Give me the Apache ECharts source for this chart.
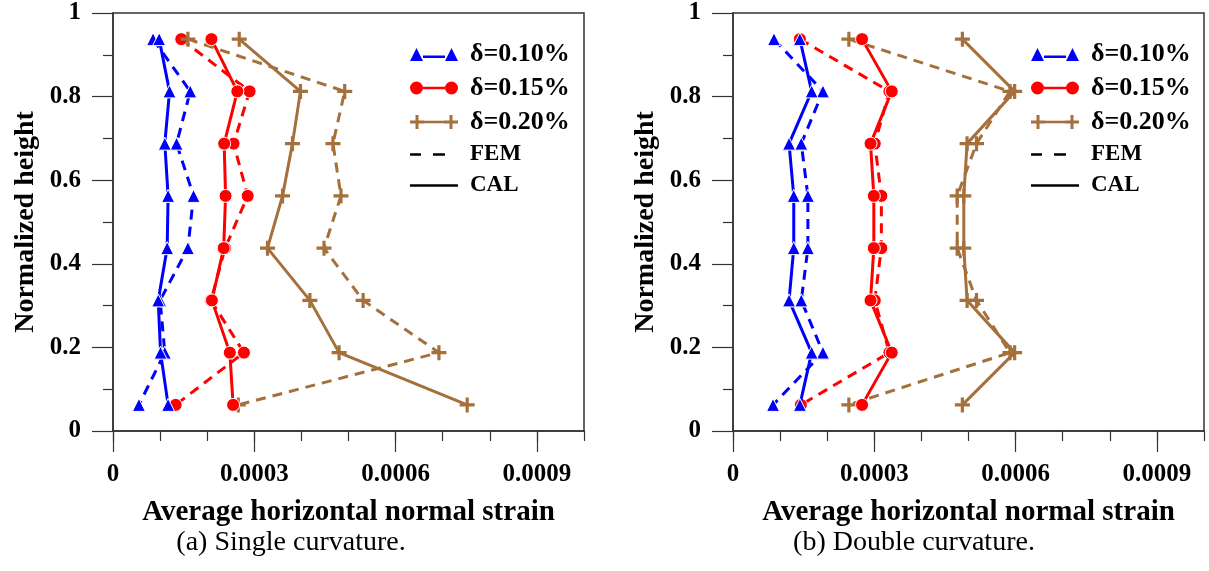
<!DOCTYPE html>
<html>
<head>
<meta charset="utf-8">
<script src="https://cdn.jsdelivr.net/npm/echarts@6/dist/echarts.min.js"></script>
<style>
  html, body { margin: 0; padding: 0; background: #fff; }
  #chart { width: 1209px; height: 571px; }
</style>
</head>
<body>
<div id="chart"></div>
<script>
// normalized height of each measuring level (top to bottom)
var heights = [0.9375, 0.8125, 0.6875, 0.5625, 0.4375, 0.3125, 0.1875, 0.0625];

// (a) single curvature
var singleCal010 = [0.000098, 0.00012, 0.00011, 0.000117, 0.000115, 0.000096, 0.000101, 0.000117];
var singleFem010 = [0.000085, 0.000164, 0.000135, 0.000171, 0.000159, 0.0001, 0.00011, 0.000055];
var singleCal015 = [0.000209, 0.000264, 0.000236, 0.000239, 0.000235, 0.00021, 0.000248, 0.000255];
var singleFem015 = [0.000145, 0.00029, 0.000256, 0.000286, 0.000238, 0.000208, 0.000278, 0.000133];
var singleCal020 = [0.000268, 0.000398, 0.000381, 0.00036, 0.000328, 0.000418, 0.00048, 0.000752];
var singleFem020 = [0.000159, 0.000492, 0.000467, 0.000484, 0.000448, 0.000531, 0.000692, 0.000266];

// (b) double curvature
var doubleCal010 = [0.000142, 0.000167, 0.000119, 0.000129, 0.000129, 0.000119, 0.000167, 0.000142];
var doubleFem010 = [0.000087, 0.000191, 0.000145, 0.000159, 0.000159, 0.000145, 0.000191, 0.000085];
var doubleCal015 = [0.000274, 0.000337, 0.000292, 0.000299, 0.000299, 0.000292, 0.000337, 0.000274];
var doubleFem015 = [0.000142, 0.000332, 0.000301, 0.000315, 0.000315, 0.000301, 0.000332, 0.000144];
var doubleCal020 = [0.000487, 0.000598, 0.000497, 0.00049, 0.00049, 0.000497, 0.000598, 0.000487];
var doubleFem020 = [0.000246, 0.000588, 0.000517, 0.000476, 0.000476, 0.000517, 0.000588, 0.000246];

var xLabelValues = [0, 0.0003, 0.0006, 0.0009];
var legendNames = ['δ=0.10%', 'δ=0.15%', 'δ=0.20%', 'FEM', 'CAL'];
var captions = ['(a) Single curvature.', '(b) Double curvature.'];

var FONT = 'Liberation Serif';
var BLUE = '#0000ff', RED = '#ff0000', BROWN = '#a5703b';
var PLUS = 'path://M5.5,0H8.5V5.5H14V8.5H8.5V14H5.5V8.5H0V5.5H5.5Z';

// legend icons, all drawn in a 48x14 box (corner points pin the box)
var box = 'M0,0L0,0M48,14L48,14';
var iconTri = 'path://' + box + 'M0,14L6.5,1L13,14ZM35,14L41.5,1L48,14ZM13,8.5H35V11H13Z';
var iconDot = 'path://' + box + 'M0,7A6.5,6.5 0 1,1 13,7A6.5,6.5 0 1,1 0,7ZM35,7A6.5,6.5 0 1,1 48,7A6.5,6.5 0 1,1 35,7ZM13,5.75H35V8.25H13Z';
var iconPlus = 'path://' + box + 'M5.5,0H8.5V5.5H14V8.5H8.5V14H5.5V8.5H0V5.5H5.5ZM39.5,0H42.5V5.5H48V8.5H42.5V14H39.5V8.5H34V5.5H39.5ZM14,5.75H34V8.25H14Z';
var iconDash = 'path://' + box + 'M0,5.75H11V8.25H0ZM23,5.75H35V8.25H23Z';
var iconLine = 'path://' + box + 'M0,5.75H48V8.25H0Z';

function pairs(xs) {
  return xs.map(function (x, i) { return [x, heights[i]]; });
}

function lineSeries(name, xs, color, symbol, size, dashed, axis) {
  return {
    name: name,
    type: 'line',
    xAxisIndex: axis * 2,
    yAxisIndex: axis,
    data: pairs(xs),
    symbol: symbol,
    symbolSize: size,
    symbolKeepAspect: true,
    showSymbol: true,
    color: color,
    lineStyle: { color: color, width: 3, type: dashed ? [10, 7] : 'solid' },
    itemStyle: { color: color, borderColor: '#fff', borderWidth: symbol === PLUS ? 0 : 1 },
    z: dashed ? 2 : 3
  };
}

function makeSeries(axis, c1, f1, c2, f2, c3, f3) {
  return [
    lineSeries('FEM 0.10', f1, BLUE, 'triangle', 13, true, axis),
    lineSeries('FEM 0.15', f2, RED, 'circle', 13, true, axis),
    lineSeries('FEM 0.20', f3, BROWN, PLUS, 15, true, axis),
    lineSeries('δ=0.10%', c1, BLUE, 'triangle', 13, false, axis),
    lineSeries('δ=0.15%', c2, RED, 'circle', 13, false, axis),
    lineSeries('δ=0.20%', c3, BROWN, PLUS, 15, false, axis),
    { name: 'FEM', type: 'line', xAxisIndex: axis * 2, yAxisIndex: axis, data: [], color: '#000' },
    { name: 'CAL', type: 'line', xAxisIndex: axis * 2, yAxisIndex: axis, data: [], color: '#000' }
  ];
}

function makeLegend(left) {
  var icons = [iconTri, iconDot, iconPlus, iconDash, iconLine];
  var colors = [BLUE, RED, BROWN, '#000', '#000'];
  return {
    orient: 'vertical',
    left: left,
    top: 36,
    itemGap: 8,
    itemWidth: 48,
    itemHeight: 14,
    selectedMode: false,
    data: legendNames.map(function (n, i) {
      return { name: n, icon: icons[i], itemStyle: { color: colors[i], borderWidth: 0 } };
    }),
    formatter: function (n) {
      return n.indexOf('δ') === 0 ? '{a|' + n + '}' : '{b|' + n + '}';
    },
    textStyle: {
      fontFamily: FONT, fontWeight: 'bold', color: '#000',
      rich: {
        a: { fontFamily: FONT, fontWeight: 'bold', fontSize: 26, color: '#000', padding: [0, 0, 0, 7] },
        b: { fontFamily: FONT, fontWeight: 'bold', fontSize: 23, color: '#000', padding: [0, 0, 0, 7] }
      }
    }
  };
}

var axisColor = '#333';

function xAxes(grid) {
  return [
    {
      type: 'value', gridIndex: grid, min: 0, max: 0.001, interval: 0.0001,
      axisLine: { show: true, lineStyle: { color: axisColor, width: 1.5 } },
      axisTick: { show: true, inside: false, length: 10, lineStyle: { color: axisColor, width: 1.2 } },
      axisLabel: { show: false },
      splitLine: { show: false }
    },
    {
      type: 'value', gridIndex: grid, min: 0, max: 0.001, interval: 0.0001, position: 'bottom',
      name: 'Average horizontal normal strain',
      nameLocation: 'middle', nameGap: 67,
      nameTextStyle: { fontFamily: FONT, fontWeight: 'bold', fontSize: 29, color: '#000' },
      axisLine: { show: false },
      axisTick: { show: true, inside: false, length: 21, customValues: xLabelValues, lineStyle: { color: axisColor, width: 1.2 } },
      axisLabel: {
        show: true, customValues: xLabelValues, margin: 31,
        fontFamily: FONT, fontWeight: 'bold', fontSize: 25, color: '#000',
        formatter: function (v) { return v === 0 ? '0' : v.toFixed(4); }
      },
      splitLine: { show: false }
    }
  ];
}

function yAxis(grid) {
  return {
    type: 'value', gridIndex: grid, min: 0, max: 1, interval: 0.2,
    name: 'Normalized height',
    nameLocation: 'middle', nameGap: 73,
    nameTextStyle: { fontFamily: FONT, fontWeight: 'bold', fontSize: 28, color: '#000' },
    axisLine: { show: true, lineStyle: { color: axisColor, width: 1.5 } },
    axisTick: { show: true, inside: false, length: 21, lineStyle: { color: axisColor, width: 1.2 } },
    minorTick: { show: true, splitNumber: 2, length: 10, lineStyle: { color: axisColor, width: 1.2 } },
    axisLabel: {
      margin: 32, fontFamily: FONT, fontWeight: 'bold', fontSize: 25, color: '#000',
      formatter: function (v) { return v === 0 ? '0' : v === 1 ? '1' : v.toFixed(1); }
    },
    splitLine: { show: false },
    minorSplitLine: { show: false }
  };
}

var chart = echarts.init(document.getElementById('chart'));

var option = {
  animation: false,
  backgroundColor: '#fff',
  grid: [
    { left: 113, top: 13, width: 471, height: 418, show: true, borderColor: axisColor, borderWidth: 1.5, backgroundColor: 'transparent' },
    { left: 733, top: 13, width: 471, height: 418, show: true, borderColor: axisColor, borderWidth: 1.5, backgroundColor: 'transparent' }
  ],
  xAxis: xAxes(0).concat(xAxes(1)),
  yAxis: [yAxis(0), yAxis(1)],
  legend: [makeLegend(405), makeLegend(1026)],
  graphic: captions.map(function (t, i) {
    return {
      type: 'text',
      x: i === 0 ? 291 : 914,
      y: 543,
      style: { text: t, fontFamily: FONT, fontSize: 28, fill: '#000', align: 'center', verticalAlign: 'middle' }
    };
  }),
  series: makeSeries(0, singleCal010, singleFem010, singleCal015, singleFem015, singleCal020, singleFem020)
    .concat(makeSeries(1, doubleCal010, doubleFem010, doubleCal015, doubleFem015, doubleCal020, doubleFem020))
};

chart.setOption(option);
</script>
</body>
</html>
